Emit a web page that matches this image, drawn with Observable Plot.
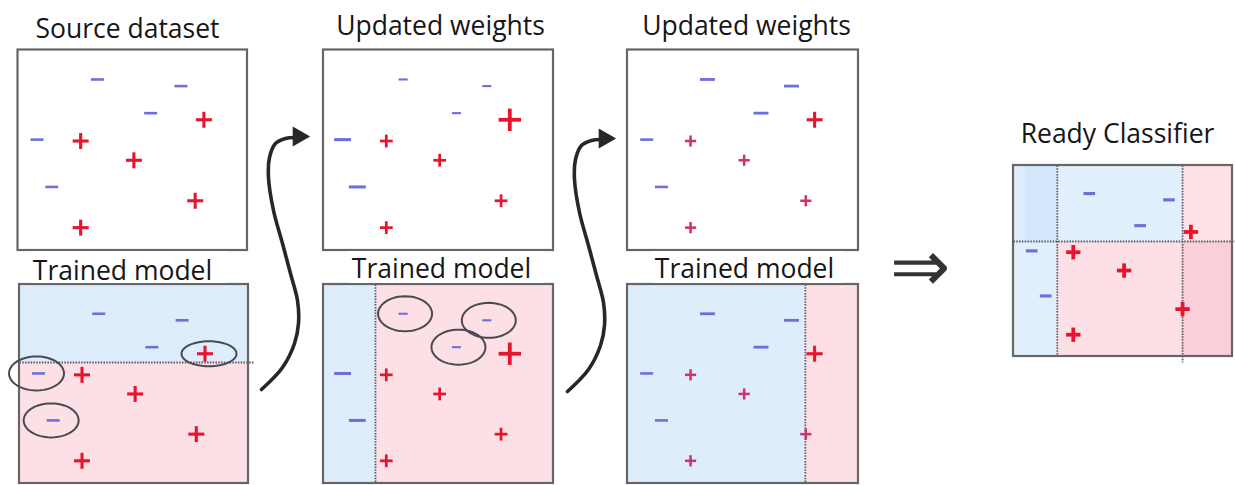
<!DOCTYPE html>
<html>
<head>
<meta charset="utf-8">
<script src="https://cdn.jsdelivr.net/npm/d3@7"></script>
<script src="https://cdn.jsdelivr.net/npm/@observablehq/plot@0.6"></script>
<style>
  html, body { margin: 0; padding: 0; background: #fff; overflow: hidden; }
</style>
</head>
<body>
<div id="chart"></div>
<script>
// ---------------- DATA ----------------
// The ten training samples, in coordinates relative to a panel (0..1, top-left origin)
const pointSign = ["−", "−", "−", "−", "−", "+", "+", "+", "+", "+"];
const pointU = [0.346, 0.710, 0.578, 0.083, 0.147, 0.810, 0.273, 0.505, 0.772, 0.273];
const pointV = [0.147, 0.180, 0.315, 0.447, 0.683, 0.348, 0.454, 0.550, 0.752, 0.886];

// Sample weights at each boosting stage
const weightsStage1 = [1.0, 1.0, 1.0, 1.0, 1.0, 1.0, 1.0, 1.0, 1.0, 1.0];
const weightsStage2 = [0.7, 0.7, 0.7, 1.3, 1.3, 1.4, 0.8, 0.8, 0.8, 0.8];
const weightsStage3 = [1.15, 1.15, 1.15, 1.0, 1.0, 1.0, 0.7, 0.7, 0.7, 0.7];
const weightsFinal  = [0.9, 0.9, 0.9, 0.9, 0.9, 0.9, 0.9, 0.9, 0.9, 0.9];

// Samples misclassified by each weak learner (indices)
const misclassifiedStage1 = [5, 3, 4];
const misclassifiedStage2 = [0, 1, 2];

// Decision boundaries of the weak learners (relative positions)
const boundaryStage1 = {axis: "h", at: 0.392};
const boundaryStage2 = {axis: "v", at: 0.226};
const boundaryStage3 = {axis: "v", at: 0.770};

// Text
const topTitles = ["Source dataset", "Updated weights", "Updated weights"];
const modelLabel = "Trained model";
const finalTitle = "Ready Classifier";
const implies = "⇒";

// ---------------- LAYOUT / STYLE ----------------
const W = 1235, H = 485;
const BLUE = "#ddedfc", PINK = "#fde0e6";
const MINUS = "#6f6fd8", PLUS = "#e8142e", PLUS_LIGHT = "#d3306a";

const top1 = {x1: 17.5, x2: 247, y1: 49.5, y2: 250};
const bot1 = {x1: 19, x2: 248, y1: 284, y2: 483};
const top2 = {x1: 323, x2: 553, y1: 49.5, y2: 250};
const bot2 = {x1: 323, x2: 553, y1: 284, y2: 483};
const top3 = {x1: 627, x2: 858, y1: 49.5, y2: 250};
const bot3 = {x1: 627, x2: 858, y1: 284, y2: 483};
const fin  = {x1: 1013, x2: 1232, y1: 165, y2: 356};
const boxes = [top1, bot1, top2, bot2, top3, bot3, fin];

const px = (b, u) => b.x1 + u * (b.x2 - b.x1);
const py = (b, v) => b.y1 + v * (b.y2 - b.y1);

// Region fills
const regions = [];
function region(b, u1, u2, v1, v2, fill) {
  regions.push({x1: px(b, u1), x2: px(b, u2), y1: py(b, v1), y2: py(b, v2), fill});
}
region(bot1, 0, 1, 0, boundaryStage1.at, BLUE);
region(bot1, 0, 1, boundaryStage1.at, 1, PINK);
region(bot2, 0, boundaryStage2.at, 0, 1, BLUE);
region(bot2, boundaryStage2.at, 1, 0, 1, PINK);
region(bot3, 0, boundaryStage3.at, 0, 1, BLUE);
region(bot3, boundaryStage3.at, 1, 0, 1, PINK);
// Final classifier combines the three boundaries
const fv = 0.398, fu1 = 0.2, fu2 = 0.772;
region(fin, 0, 0.055, 0, fv, "#ddedfc");
region(fin, 0.055, fu1, 0, fv, "#d3e6fa");
region(fin, 0, fu1, fv, 1, "#e1effc");
region(fin, fu1, fu2, 0, fv, "#e2effc");
region(fin, fu1, fu2, fv, 1, "#fde0e6");
region(fin, fu2, 1, 0, fv, "#fde2e7");
region(fin, fu2, 1, fv, 1, "#f9d0d8");

// Dotted boundary lines
const dividers = [
  {x1: bot1.x1, x2: bot1.x2 + 5, y1: py(bot1, boundaryStage1.at), y2: py(bot1, boundaryStage1.at)},
  {x1: px(bot2, boundaryStage2.at), x2: px(bot2, boundaryStage2.at), y1: bot2.y1, y2: bot2.y2},
  {x1: px(bot3, boundaryStage3.at), x2: px(bot3, boundaryStage3.at), y1: bot3.y1, y2: bot3.y2},
  {x1: px(fin, fu1), x2: px(fin, fu1), y1: fin.y1, y2: fin.y2},
  {x1: px(fin, fu2), x2: px(fin, fu2), y1: fin.y1, y2: fin.y2 + 6},
  {x1: fin.x1, x2: fin.x2 + 3, y1: py(fin, fv), y2: py(fin, fv)}
];

// White label backgrounds for "Trained model"
const labelBg = [
  {x1: 30, x2: 227, y1: 251, y2: 283},
  {x1: 348, x2: 542, y1: 251, y2: 283},
  {x1: 652, x2: 843, y1: 251, y2: 283}
];

// Titles
const texts = [
  {x: 127, y: 37, t: topTitles[0]},
  {x: 440, y: 34, t: topTitles[1]},
  {x: 746, y: 34, t: topTitles[2]},
  {x: 122, y: 279, t: modelLabel},
  {x: 441, y: 277, t: modelLabel},
  {x: 744, y: 277, t: modelLabel},
  {x: 1117, y: 142, t: finalTitle}
];

// Panels showing the samples
const pointPanels = [
  {box: top1, weights: weightsStage1},
  {box: bot1, weights: weightsStage1},
  {box: top2, weights: weightsStage2},
  {box: bot2, weights: weightsStage2},
  {box: top3, weights: weightsStage3, lightSmall: true},
  {box: bot3, weights: weightsStage3, lightSmall: true},
  {box: fin,  weights: weightsFinal, bold: 1.3}
];

const segs = [];
for (const p of pointPanels) {
  for (let i = 0; i < pointSign.length; i++) {
    const w = p.weights[i];
    const cx = px(p.box, pointU[i]);
    const cy = py(p.box, pointV[i]);
    const k = Math.pow(w, 0.6) * (p.bold || 1);
    if (pointSign[i] === "−") {
      const h = 6.5 * w;
      segs.push({x1: cx - h, x2: cx + h, y1: cy, y2: cy, sw: 2.6 * k, c: MINUS});
    } else {
      const h = 8 * w;
      const c = (p.lightSmall && w < 1) ? PLUS_LIGHT : PLUS;
      segs.push({x1: cx - h, x2: cx + h, y1: cy, y2: cy, sw: 3.1 * k, c});
      segs.push({x1: cx, x2: cx, y1: cy - h, y2: cy + h, sw: 3.1 * k, c});
    }
  }
}

// Ellipses around misclassified samples
const ellipseSpecs = [
  ...misclassifiedStage1.map((i, j) => ({box: bot1, i, rx: 27.5, ry: j === 0 ? 12.5 : 17, dx: j === 0 ? 4 : -2})),
  ...misclassifiedStage2.map(i => ({box: bot2, i, rx: 27, ry: 17.5, dx: 2}))
];
const ellipsePts = [];
ellipseSpecs.forEach((e, k) => {
  const cx = px(e.box, pointU[e.i]) + e.dx;
  const cy = py(e.box, pointV[e.i]);
  for (let a = 0; a <= 48; a++) {
    const t = a / 48 * 2 * Math.PI;
    ellipsePts.push({k, x: cx + e.rx * Math.cos(t), y: cy + e.ry * Math.sin(t)});
  }
});

// Curved arrows (shape + offsets)
const arrowShape = [[261,389],[282,367],[294,343],[298,323],[297,300],[290,273],[282,243],[273,210],[268,177],[269,157],[275,143],[285,138],[294,137]];
const arrowOffsets = [[0, 0], [306, 2]];
const arrowPts = [];
const arrowHeads = [];
arrowOffsets.forEach(([dx, dy], k) => {
  arrowShape.forEach(([x, y]) => arrowPts.push({k, x: x + dx, y: y + dy}));
  arrowHeads.push({x: 298 + dx, y: 136 + dy});
});

const chart = Plot.plot({
  width: W,
  height: H,
  margin: 0,
  x: {domain: [0, W], range: [0, W], axis: null},
  y: {domain: [0, H], range: [0, H], axis: null},
  color: {type: "identity"},
  style: {background: "#fff"},
  marks: [
    Plot.rect(regions, {x1: "x1", x2: "x2", y1: "y1", y2: "y2", fill: "fill"}),
    Plot.link(dividers, {x1: "x1", x2: "x2", y1: "y1", y2: "y2", stroke: "#5a5a66", strokeWidth: 1.8, strokeDasharray: "1.5,1.3"}),
    Plot.rect(boxes, {x1: "x1", x2: "x2", y1: "y1", y2: "y2", fill: "none", stroke: "#666", strokeWidth: 2.2}),
    Plot.rect(labelBg, {x1: "x1", x2: "x2", y1: "y1", y2: "y2", fill: "#fff"}),
    Plot.link(segs, {x1: "x1", x2: "x2", y1: "y1", y2: "y2", stroke: "c", strokeWidth: "sw", strokeLinecap: "butt"}),
    Plot.line(ellipsePts, {x: "x", y: "y", z: "k", stroke: "#4a4a52", strokeWidth: 2, curve: "linear"}),
    Plot.line(arrowPts, {x: "x", y: "y", z: "k", stroke: "#272727", strokeWidth: 3.6, curve: "catmull-rom"}),
    Plot.dot(arrowHeads, {x: "x", y: "y", symbol: "triangle", rotate: 90, r: 7.5, fill: "#272727", stroke: "none"}),
    Plot.text(texts, {x: "x", y: "y", text: "t", fontSize: 26.5, fontFamily: "Open Sans", lineAnchor: "bottom", fill: "#161616"}),
    Plot.text([implies], {x: () => 919, y: () => 267, text: d => d, fontSize: 72, fontFamily: "DejaVu Sans", fontWeight: 200, lineAnchor: "middle", fill: "#333"})
  ]
});
document.getElementById("chart").appendChild(chart);
</script>
</body>
</html>
